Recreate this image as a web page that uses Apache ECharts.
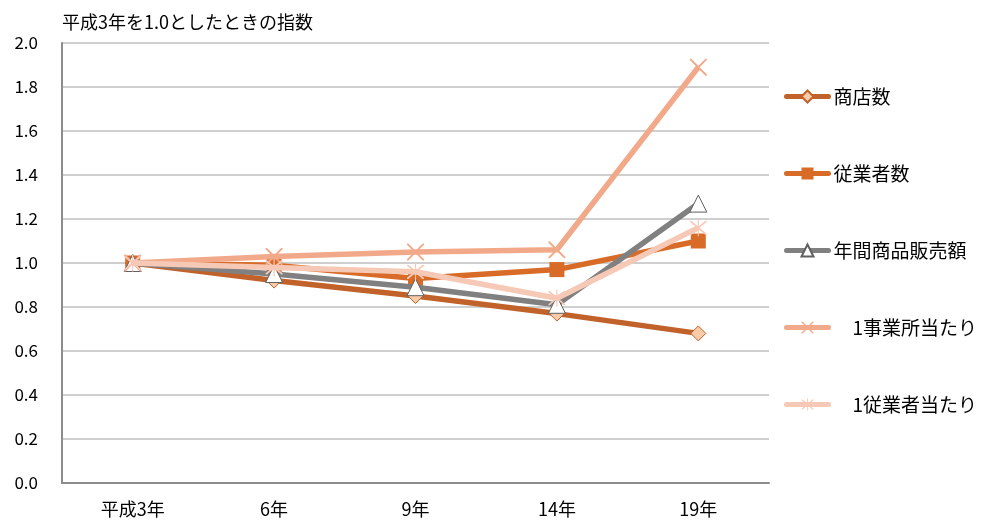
<!DOCTYPE html>
<html><head><meta charset="utf-8">
<script src="https://cdn.jsdelivr.net/npm/echarts@6/dist/echarts.min.js"></script>
<style>html,body{margin:0;padding:0;background:#fff}#c{width:993px;height:522px}</style>
</head><body><div id="c"></div>
<script>
const categories = ['平成3年', '6年', '9年', '14年', '19年'];
const yTicks = [0, 0.2, 0.4, 0.6, 0.8, 1.0, 1.2, 1.4, 1.6, 1.8, 2.0];
const shotenSu = [1.0, 0.92, 0.85, 0.77, 0.68];
const jugyoshaSu = [1.0, 0.99, 0.93, 0.97, 1.10];
const hanbaigaku = [1.0, 0.95, 0.89, 0.81, 1.27];
const perJigyosho = [1.0, 1.03, 1.05, 1.06, 1.89];
const perJugyosha = [1.0, 0.98, 0.96, 0.84, 1.16];
const seriesNames = ['商店数', '従業者数', '年間商品販売額', '　1事業所当たり', '　1従業者当たり'];

const xPath = 'path://M0,0 L1.6,0 L10,8.4 L18.4,0 L20,0 L20,1.6 L11.6,10 L20,18.4 L20,20 L18.4,20 L10,11.6 L1.6,20 L0,20 L0,18.4 L8.4,10 L0,1.6 Z';
const starPath = 'path://M0,0 L1.6,0 L10,8.4 L18.4,0 L20,0 L20,1.6 L11.6,10 L20,18.4 L20,20 L18.4,20 L10,11.6 L1.6,20 L0,20 L0,18.4 L8.4,10 L0,1.6 Z M9.3,-2 L10.7,-2 L10.7,22 L9.3,22 Z';
const font = '"Noto Sans CJK JP", "Noto Sans", sans-serif';

const chart = echarts.init(document.getElementById('c'));
function mk(name, data, color, symbol, size, sFill, sBorder, z) {
  return {
    name, type: 'line', data, symbol, symbolSize: size, z,
    lineStyle: { color, width: 5.5 },
    itemStyle: { color: sFill, borderColor: sBorder || sFill, borderWidth: sBorder ? 1 : 0 },
    emphasis: { disabled: true }
  };
}
chart.setOption({
  animation: false,
  textStyle: { fontFamily: font },
  title: {
    text: '平成3年を1.0としたときの指数', left: 62, top: 13, padding: 0,
    textStyle: { fontSize: 18, fontWeight: 'normal', color: '#000', fontFamily: font }
  },
  grid: { left: 62, right: 224, top: 43, bottom: 39 },
  legend: {
    orient: 'vertical', left: 784, top: 87, padding: 0,
    itemWidth: 42, itemHeight: 15, itemGap: 58, itemTextGap: 5,
    lineStyle: { width: 5, cap: 'round' },
    textStyle: { fontSize: 19, color: '#000', fontFamily: font },
    data: seriesNames
  },
  xAxis: {
    type: 'category', data: categories, boundaryGap: true,
    axisLine: { lineStyle: { color: '#8c8c8c', width: 2 } },
    axisTick: { inside: true, length: 7, lineStyle: { color: '#8c8c8c' } },
    axisLabel: { fontSize: 18, color: '#000', margin: 17, fontFamily: font }
  },
  yAxis: {
    type: 'value', min: 0, max: 2, interval: 0.2,
    axisLine: { show: true, lineStyle: { color: '#8c8c8c', width: 2 } },
    axisTick: { show: false },
    splitLine: { lineStyle: { color: '#bfbfbf', width: 1.5 } },
    axisLabel: { fontSize: 17, color: '#000', margin: 24, fontFamily: font,
      formatter: v => yTicks.includes(Math.round(v*10)/10) ? v.toFixed(1) : '' }
  },
  series: [
    mk(seriesNames[0], shotenSu, '#C0622A', 'diamond', 15, '#F9CBA8', '#C0622A', 2),
    mk(seriesNames[1], jugyoshaSu, '#D86B27', 'rect', 15, '#D86B27', null, 3),
    mk(seriesNames[2], hanbaigaku, '#808080', 'triangle', 17, '#ffffff', '#606060', 4),
    mk(seriesNames[3], perJigyosho, '#F2A98A', xPath, 17, '#F2A98A', null, 5),
    mk(seriesNames[4], perJugyosha, '#F6C8B6', starPath, 17, '#F6C8B6', null, 6)
  ]
});
</script></body></html>
